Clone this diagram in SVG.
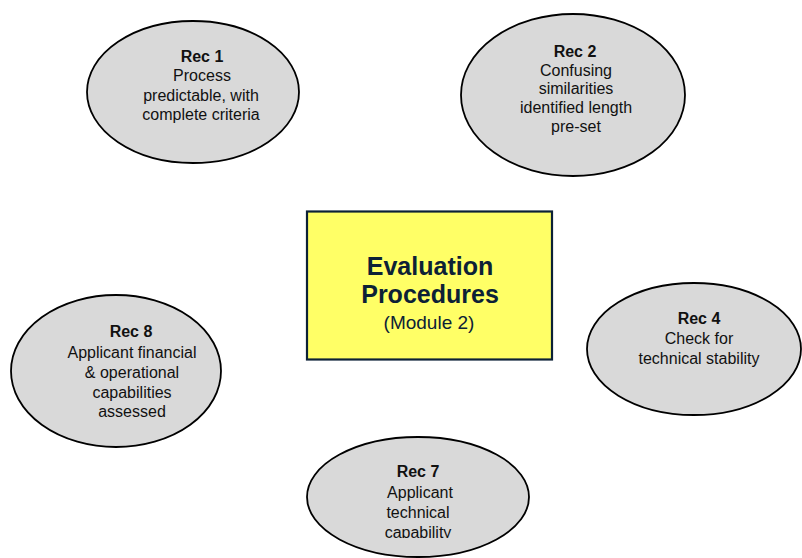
<svg xmlns="http://www.w3.org/2000/svg" width="802" height="558" viewBox="0 0 802 558">
<defs>
<style>
.bub{fill:#d9d9d9;stroke:#000;stroke-width:1.8}
.t{font-family:"Liberation Sans",Arial,sans-serif;font-size:16px;fill:#111;text-anchor:middle}
.b{font-weight:bold}
.ct{font-family:"Liberation Sans",Arial,sans-serif;fill:#0c2136;text-anchor:middle}
</style>
<clipPath id="clip7"><rect x="300" y="430" width="240" height="108"/></clipPath>
</defs>
<rect width="802" height="558" fill="#fff"/>
<g id="connectors"></g>
<g id="center">
<rect x="307" y="211.5" width="245" height="148" fill="#ffff66" stroke="#0c2136" stroke-width="2.2"/>
<text class="ct" x="430" y="275" font-size="25" font-weight="bold">Evaluation</text>
<text class="ct" x="430" y="303" font-size="25" font-weight="bold">Procedures</text>
<text class="ct" x="429" y="329" font-size="19">(Module 2)</text>
</g>
<g id="rec1">
<ellipse class="bub" cx="193" cy="92" rx="106" ry="71"/>
<text class="t b" x="202" y="62">Rec 1</text>
<text class="t" x="202" y="81">Process</text>
<text class="t" x="201" y="101">predictable, with</text>
<text class="t" x="201" y="120">complete criteria</text>
</g>
<g id="rec2">
<ellipse class="bub" cx="573" cy="95" rx="112" ry="81"/>
<text class="t b" x="575" y="57">Rec 2</text>
<text class="t" x="576" y="76">Confusing</text>
<text class="t" x="576" y="94">similarities</text>
<text class="t" x="576" y="113">identified length</text>
<text class="t" x="576" y="132">pre-set</text>
</g>
<g id="rec4">
<ellipse class="bub" cx="694" cy="349" rx="107" ry="66"/>
<text class="t b" x="699" y="324">Rec 4</text>
<text class="t" x="699" y="344">Check for</text>
<text class="t" x="699" y="364">technical stability</text>
</g>
<g id="rec7">
<ellipse class="bub" cx="418" cy="497" rx="111" ry="60"/>
<g clip-path="url(#clip7)">
<text class="t b" x="418" y="477">Rec 7</text>
<text class="t" x="420" y="498">Applicant</text>
<text class="t" x="418" y="518">technical</text>
<text class="t" x="418" y="538">capability</text>
</g>
</g>
<g id="rec8">
<ellipse class="bub" cx="116" cy="371" rx="105" ry="76"/>
<text class="t b" x="131" y="337">Rec 8</text>
<text class="t" x="132" y="358">Applicant financial</text>
<text class="t" x="132" y="378">&amp; operational</text>
<text class="t" x="132" y="398">capabilities</text>
<text class="t" x="132" y="417">assessed</text>
</g>
</svg>
